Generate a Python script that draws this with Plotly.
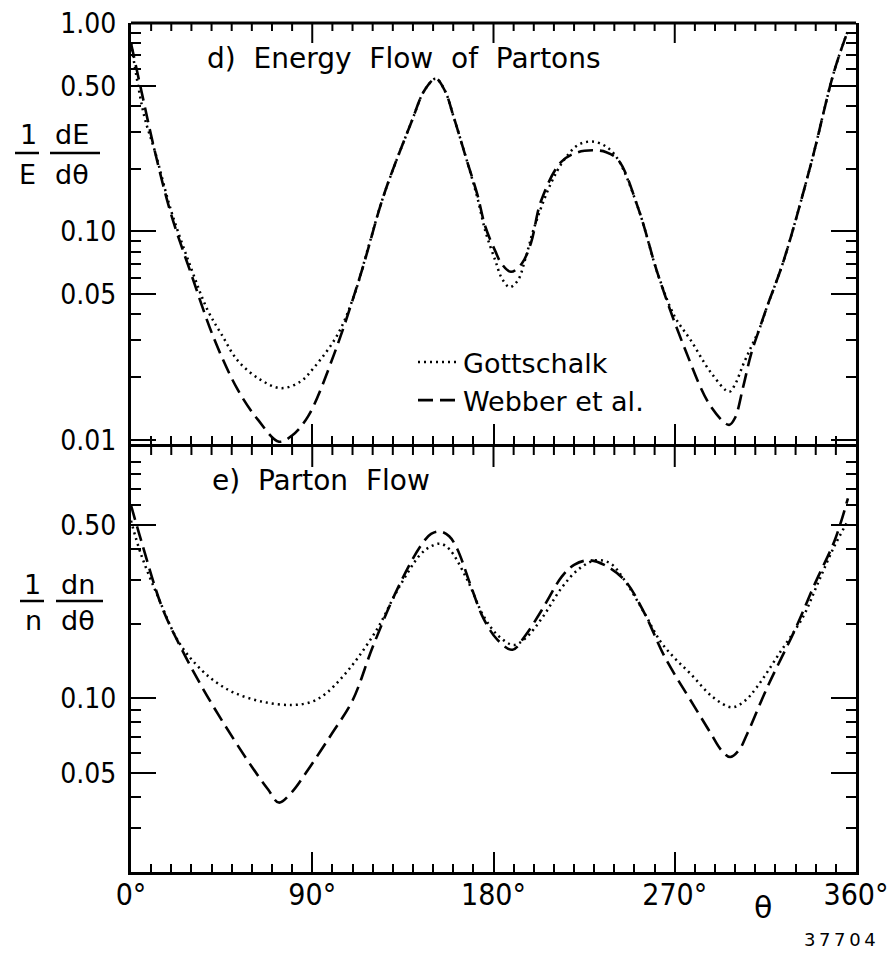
import plotly.graph_objects as go

# ---------------- data ----------------
# Panel d) Energy flow of partons
theta_d_webber = [0, 5, 11.5, 20, 30, 41, 53, 63, 73.5, 80, 88, 101, 114, 125.6, 139, 146, 151.4, 156, 160,
                  167, 172, 176, 181, 184, 188.7, 194, 198.6, 203.6, 213.5, 222, 230, 236, 242, 252, 261.7,
                  274.6, 288, 297, 300, 304, 308, 312, 316, 324, 337.6, 349, 356]
flow_d_webber = [0.80, 0.48, 0.25, 0.12, 0.062, 0.031, 0.0174, 0.0125, 0.0098, 0.0105, 0.013, 0.026, 0.062,
                 0.15, 0.33, 0.48, 0.54, 0.47, 0.36, 0.215, 0.15, 0.105, 0.080, 0.070, 0.064, 0.070, 0.088,
                 0.14, 0.215, 0.24, 0.245, 0.24, 0.22, 0.128, 0.062, 0.028, 0.0144, 0.0118, 0.0128, 0.018,
                 0.026, 0.034, 0.044, 0.072, 0.21, 0.58, 0.92]

theta_d_gott = [0, 6.5, 12, 20, 30, 38, 45, 53, 64, 74.5, 84, 91, 102.6, 111, 118, 125.6, 139, 146, 151.4,
                156, 160, 167, 172, 176, 181, 184, 188, 192, 196, 200, 208.5, 215, 222, 229, 236, 242, 252,
                261.7, 270, 278, 288, 297, 300, 304, 308, 312, 316, 324, 337.6, 349, 356]
flow_d_gott = [0.80, 0.36, 0.24, 0.125, 0.066, 0.042, 0.032, 0.024, 0.0195, 0.0177, 0.019, 0.0223, 0.032,
               0.050, 0.085, 0.15, 0.33, 0.48, 0.54, 0.47, 0.36, 0.215, 0.145, 0.10, 0.072, 0.060, 0.054,
               0.058, 0.075, 0.103, 0.17, 0.22, 0.26, 0.27, 0.255, 0.22, 0.128, 0.062, 0.039, 0.030,
               0.021, 0.017, 0.0185, 0.023, 0.028, 0.034, 0.044, 0.072, 0.21, 0.58, 0.92]

# Panel e) Parton flow
theta_e_webber = [0, 5.5, 15.4, 24.8, 35, 47, 60, 68, 73.4, 80, 86.8, 99.7, 110, 120, 132, 143.7, 149,
                  153.6, 158, 162, 169, 175, 182, 189.4, 196, 204, 214, 220, 227, 235, 245, 255, 265, 280,
                  288, 293, 297.5, 302, 306, 316, 329.7, 339.6, 349.5, 356]
flow_e_webber = [0.60, 0.42, 0.233, 0.160, 0.112, 0.077, 0.053, 0.043, 0.038, 0.042, 0.050, 0.072, 0.098,
                 0.161, 0.273, 0.41, 0.46, 0.47, 0.45, 0.40, 0.28, 0.21, 0.172, 0.157, 0.18, 0.227, 0.31,
                 0.345, 0.36, 0.345, 0.30, 0.22, 0.147, 0.092, 0.072, 0.062, 0.058, 0.062, 0.072, 0.111,
                 0.189, 0.29, 0.435, 0.64]

theta_e_gott = [0, 5, 14, 24, 35, 43, 51.6, 65, 80, 90, 97, 105, 113, 123, 132, 143.7, 149, 153.6, 158,
                167, 175, 182, 190, 196, 204, 214, 222, 230.6, 238, 245, 255, 262.8, 270, 277.7, 289,
                298.5, 305, 310.8, 322, 333.7, 341, 348.6, 356]
flow_e_gott = [0.52, 0.38, 0.25, 0.167, 0.13, 0.115, 0.105, 0.097, 0.094, 0.097, 0.105, 0.122, 0.147,
               0.195, 0.27, 0.38, 0.41, 0.42, 0.40, 0.30, 0.215, 0.18, 0.164, 0.175, 0.21, 0.28, 0.33,
               0.36, 0.35, 0.30, 0.22, 0.17, 0.145, 0.126, 0.101, 0.092, 0.098, 0.111, 0.152, 0.213,
               0.29, 0.40, 0.52]

series_names = ["Gottschalk", "Webber et al."]
x_range = [0, 360]
x_major_vals = [0, 90, 180, 270, 360]
x_major_text = ["0°", "90°", "180°", "270°", "360°"]
x_minor_vals = [v for v in range(10, 360, 10) if v % 90 != 0]
d_tickvals = [0.01, 0.05, 0.1, 0.5, 1.0]
d_ticktext = ["0.01", "0.05", "0.10", "0.50", "1.00"]
e_tickvals = [0.05, 0.1, 0.5]
e_ticktext = ["0.05", "0.10", "0.50"]
y_minor_vals = [0.02, 0.03, 0.04, 0.06, 0.07, 0.08, 0.09, 0.2, 0.3, 0.4, 0.6, 0.7, 0.8, 0.9]

# ---------------- figure ----------------
W, H = 888, 953
L, R, T, B = 131, 32, 23, 81
PW, PH = W - L - R, H - T - B

def px(xp):
    return (xp - L) / PW

def py(yp):
    return (H - B - yp) / PH

def xfrac(v):
    # position of an x tick value along the (full-width) x axis domain
    return (v - x_range[0]) / (x_range[1] - x_range[0])

TXT = "DejaVu Sans, Liberation Sans, sans-serif"
NARROW = "Liberation Sans Narrow, DejaVu Sans Condensed, Arial Narrow, sans-serif"

dot_style = dict(color="black", width=2.5, dash="2px,4px")
dash_style = dict(color="black", width=2.6, dash="15px,7px")

fig = go.Figure()
fig.add_trace(go.Scatter(x=theta_d_gott, y=flow_d_gott, mode="lines", name=series_names[0],
                         line=dot_style, line_shape="spline", xaxis="x", yaxis="y"))
fig.add_trace(go.Scatter(x=theta_d_webber, y=flow_d_webber, mode="lines", name=series_names[1],
                         line=dash_style, line_shape="spline", xaxis="x", yaxis="y"))
fig.add_trace(go.Scatter(x=theta_e_gott, y=flow_e_gott, mode="lines", name=series_names[0],
                         line=dot_style, line_shape="spline", xaxis="x2", yaxis="y2", showlegend=False))
fig.add_trace(go.Scatter(x=theta_e_webber, y=flow_e_webber, mode="lines", name=series_names[1],
                         line=dash_style, line_shape="spline", xaxis="x2", yaxis="y2", showlegend=False))

LW = 3
MAJ, MIN = 20, 8
bottom_top_px = 447          # top edge of lower panel
top_bottom_px = 447 - LW      # bottom edge of upper panel (axis lines overlap)

xcommon = dict(range=x_range, showgrid=False, zeroline=False, automargin=False, domain=[0, 1],
               showline=True, linecolor="black", linewidth=LW, mirror=False, ticks="inside",
               tickmode="array", tickvals=x_major_vals, ticktext=x_major_text,
               ticklen=MAJ, tickwidth=2, tickcolor="black",
               minor=dict(ticks="inside", tickmode="array", tickvals=x_minor_vals, ticklen=MIN,
                          tickwidth=2, tickcolor="black", showgrid=False))
ycommon = dict(type="log", showgrid=False, zeroline=False, showline=True, linecolor="black",
               linewidth=LW, mirror="allticks", ticks="inside", tickmode="array", ticklen=25,
               tickwidth=2, tickcolor="black", ticklabelstandoff=6, automargin=False,
               tickfont=dict(family=NARROW, size=28, color="black"),
               minor=dict(ticks="inside", tickmode="array", tickvals=y_minor_vals, ticklen=10,
                          tickwidth=2, tickcolor="black", showgrid=False))

fig.update_layout(
    width=W, height=H,
    margin=dict(l=L, r=R, t=T, b=B),
    paper_bgcolor="white", plot_bgcolor="rgba(0,0,0,0)",
    font=dict(family=TXT, color="black"),
    xaxis=dict(**xcommon, anchor="y", side="bottom", showticklabels=False),
    xaxis2=dict(**xcommon, anchor="y2", side="bottom", showticklabels=True,
                ticklabelstandoff=-6, ticklabeloverflow="allow",
                tickfont=dict(family=NARROW, size=30, color="black")),
    yaxis=dict(**ycommon, domain=[py(top_bottom_px), 1], anchor="x", range=[-2.02, 0.0],
               tickvals=d_tickvals, ticktext=d_ticktext),
    yaxis2=dict(**ycommon, domain=[0, py(bottom_top_px)], anchor="x2", range=[-1.70, 0.013],
                tickvals=e_tickvals, ticktext=e_ticktext),
    showlegend=True,
    legend=dict(x=px(413), y=py(338), xanchor="left", yanchor="top", bgcolor="rgba(0,0,0,0)",
                font=dict(family=TXT, size=27, color="black"), tracegroupgap=0, itemwidth=40),
)

ann = []
def label(text, xp, yp, size, xanchor="center", family=TXT):
    ann.append(dict(text=text, x=px(xp), y=py(yp), xref="paper", yref="paper", showarrow=False,
                    xanchor=xanchor, yanchor="middle", font=dict(family=family, size=size, color="black")))

label("d)  Energy  Flow  of  Partons", 205, 59, 28, xanchor="left")
label("e)  Parton  Flow", 210, 480, 28, xanchor="left")
# y-axis titles as fractions
label("1", 28, 134, 27)
label("E", 27, 174, 27)
label("dE", 72, 134, 27)
label("dθ", 72, 174, 27)
label("1", 32, 584, 27)
label("n", 33, 620, 27)
label("dn", 78, 584, 27)
label("dθ", 78, 620, 27)
label("θ", 763, 907, 30)
label("3\u20097\u20097\u20090\u20094", 840, 940, 18)
fig.update_layout(annotations=ann)

shapes = []
for (x0, x1, yy) in [(15, 39, 153), (50, 100, 153), (20, 44, 601), (56, 103, 601)]:
    shapes.append(dict(type="line", xref="paper", yref="paper", x0=px(x0), x1=px(x1), y0=py(yy), y1=py(yy),
                       line=dict(color="black", width=2.5)))
# upper frame edge of the top panel
shapes.append(dict(type="line", xref="paper", yref="paper", x0=0, x1=1, y0=1, y1=1,
                   line=dict(color="black", width=LW)))
# downward (mirrored) x ticks on the upper edges of both panels, at the tick values
for ytop in [1.0, py(bottom_top_px)]:
    for v in x_major_vals[1:-1]:
        shapes.append(dict(type="line", xref="paper", yref="paper", x0=xfrac(v), x1=xfrac(v),
                           y0=ytop, y1=ytop - MAJ / PH, line=dict(color="black", width=2)))
    for v in x_minor_vals:
        shapes.append(dict(type="line", xref="paper", yref="paper", x0=xfrac(v), x1=xfrac(v),
                           y0=ytop, y1=ytop - MIN / PH, line=dict(color="black", width=2)))
fig.update_layout(shapes=shapes)

fig.write_html("out.html", config={"displayModeBar": False},
               post_script="document.body.style.margin='0px';")
